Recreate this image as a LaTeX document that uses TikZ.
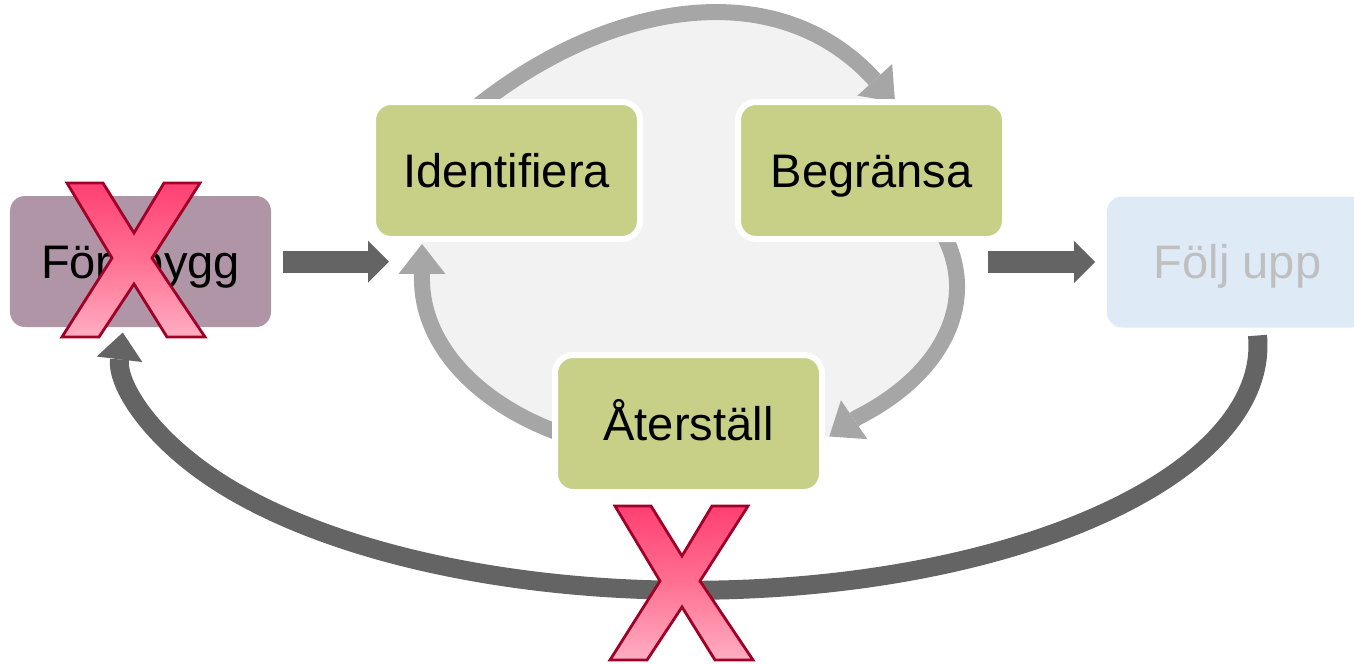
\documentclass[tikz,border=0pt]{standalone}
\usepackage{fontspec}
\setmainfont{Liberation Sans}
\usetikzlibrary{arrows.meta,backgrounds}

\definecolor{mauve}{RGB}{176,149,166}
\definecolor{stepgreen}{RGB}{200,208,136}
\definecolor{paleblue}{RGB}{222,235,247}
\definecolor{ghost}{RGB}{191,191,191}
\definecolor{darkarrow}{RGB}{100,100,100}
\definecolor{cyclearrow}{RGB}{166,166,166}
\definecolor{cyclefill}{RGB}{242,242,242}
\definecolor{xtop}{RGB}{255,64,115}
\definecolor{xmid}{RGB}{255,112,146}
\definecolor{xbottom}{RGB}{255,174,194}
\definecolor{xline}{RGB}{160,0,40}

\tikzset{
  redx/.pic={
    \draw[draw=xline,line width=0.8pt,top color=xtop,bottom color=xbottom,middle color=xmid]
      (-0.665,0.77) -- (-0.305,0.77) -- (0.005,0.27) -- (0.305,0.77) -- (0.665,0.77)
      -- (0.185,0.02) -- (0.715,-0.77) -- (0.335,-0.77) -- (0.005,-0.24)
      -- (-0.345,-0.77) -- (-0.715,-0.77) -- (-0.215,0.02) -- cycle;
  }
}

\begin{document}
\begin{tikzpicture}[
  box/.style={minimum width=2.61cm,minimum height=1.31cm,rounded corners=0.15cm,
    inner sep=0pt,outer sep=0pt,text height=0.338cm,text depth=0pt,
    font=\fontsize{13.4}{16}\selectfont},
  stepbox/.style={box,fill=stepgreen,draw=white,line width=0.06cm,
    rounded corners=0.18cm,minimum width=2.67cm,minimum height=1.37cm},
  blockarrow/.style={darkarrow,line width=0.22cm,
    -{Triangle[width=0.42cm,length=0.21cm,line width=0pt]}},
  cyclearc/.style={cyclearrow,line width=0.16cm,
    -{Triangle[width=0.47cm,length=0.3cm,line width=0pt]}},
  backarc/.style={darkarrow,line width=0.19cm,
    -{Triangle[width=0.46cm,length=0.27cm,line width=0pt]}}
]
  \useasboundingbox (0,0) rectangle (13.54,6.63);

  \node[box,fill=mauve] (fore) at (1.405,4.015) {Förebygg};
  \node[stepbox] (ident) at (5.065,4.925) {Identifiera};
  \node[stepbox] (begr) at (8.715,4.925) {Begränsa};
  \node[stepbox] (ater) at (6.885,2.395) {Återställ};
  \node[box,fill=paleblue,text=ghost] (folj) at (12.375,4.01) {Följ upp};

  % start and end points of the cycle arcs
  \coordinate (top0) at ([shift={(-0.385,-0.12)}]ident.north);
  \coordinate (top1) at ([xshift=0.235cm]begr.north);
  \coordinate (right0) at ([shift={(0.693,0.095)}]begr.south);
  \coordinate (left0) at ([shift={(0.122,-0.123)}]ater.west);

  \begin{scope}[on background layer]
    \fill[cyclefill] (top0) .. controls +(1.26,1.06) and +(-1.24,1.36) .. (top1)
      -- (right0) arc[start angle=20,end angle=-51,x radius=2.69,y radius=1.68]
      -- +(-0.28,-0.19)
      -- (left0) arc[start angle=243,end angle=180,x radius=2.66,y radius=1.76]
      -- +(0,0.35) -- cycle;
    \draw[cyclearc] (top0) .. controls +(1.26,1.06) and +(-1.24,1.36) .. (top1);
    \draw[cyclearc] (right0) arc[start angle=20,end angle=-51,x radius=2.69,y radius=1.68]
      -- +(-0.28,-0.19);
    \draw[cyclearc] (left0) arc[start angle=243,end angle=180,x radius=2.66,y radius=1.76]
      -- +(0,0.35);
  \end{scope}

  \draw[blockarrow] ([xshift=0.12cm]fore.east) -- ++(1.06,0);
  \draw[blockarrow] ([xshift=-1.19cm]folj.west) -- ([xshift=-0.12cm]folj.west);

  \draw[backarc] ([shift={(0.2,-0.08)}]folj.south)
    arc[start angle=2.3,end angle=-183,x radius=5.68,y radius=2.45];

  \pic at (1.335,4.03) {redx};
  \pic at (6.815,0.80) {redx};
\end{tikzpicture}
\end{document}
